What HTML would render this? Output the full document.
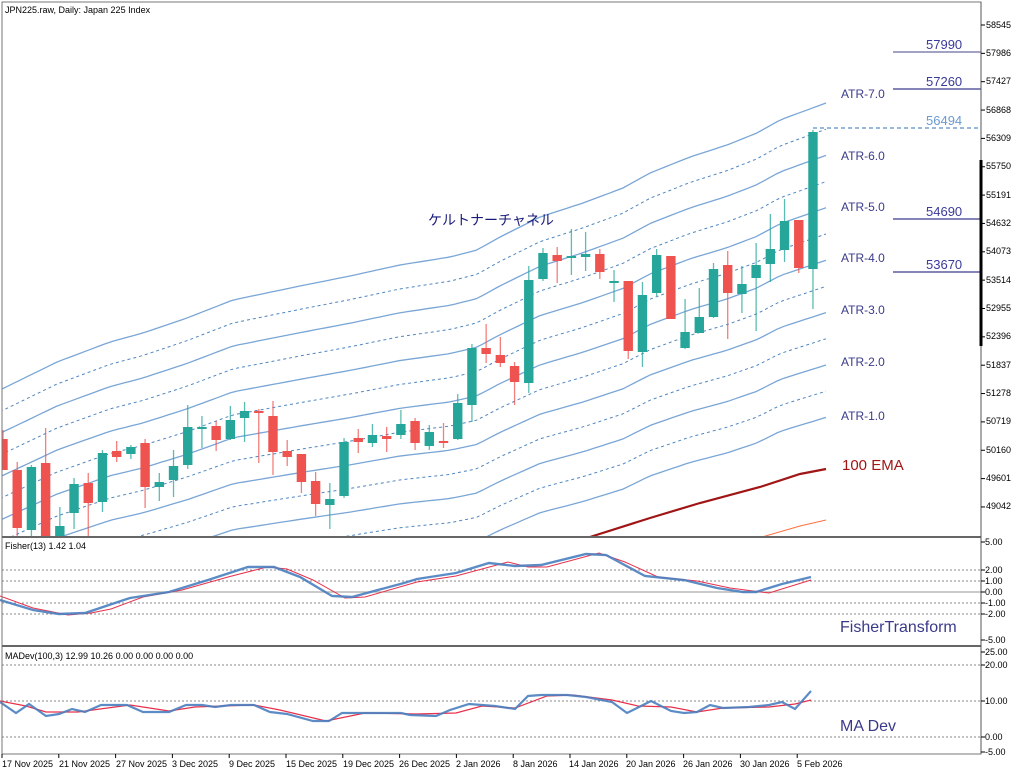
<!DOCTYPE html>
<html><head><meta charset="utf-8"><style>
html,body{margin:0;padding:0;background:#fff;}
svg{display:block;font-family:"Liberation Sans","Noto Sans CJK JP",sans-serif;}
.ax{font-size:9px;fill:#000;}
</style></head><body>
<svg id="s" width="1024" height="773" viewBox="0 0 1024 773" xmlns="http://www.w3.org/2000/svg">
<rect width="1024" height="773" fill="#fff"/>
<g id="bands"></g>
<polyline fill="none" stroke="#a01515" stroke-width="2.2" points="590,537 650,518 700,503 760,487 800,474 826,469"/>
<polyline fill="none" stroke="#ff7040" stroke-width="1" points="762,537 800,526 826,520"/>
<g id="candles"></g>
<!-- horizontal levels -->
<line x1="893" y1="52" x2="981" y2="52" stroke="#6a6aa0" stroke-width="1.3"/>
<line x1="893" y1="89" x2="981" y2="89" stroke="#3a3a8a" stroke-width="1.3"/>
<line x1="813" y1="128" x2="981" y2="128" stroke="#5a8ec8" stroke-width="1.2" stroke-dasharray="4,3"/>
<line x1="893" y1="219" x2="981" y2="219" stroke="#3a3a8a" stroke-width="1.3"/>
<line x1="893" y1="272" x2="981" y2="272" stroke="#3a3a8a" stroke-width="1.3"/>
<g font-size="13" fill="#3a3a9a">
<text x="926" y="49">57990</text>
<text x="926" y="86">57260</text>
<text x="926" y="125" fill="#6a9ad0">56494</text>
<text x="926" y="216">54690</text>
<text x="926" y="269">53670</text>
</g>
<g font-size="12" fill="#3a3a8a">
<text x="841" y="98">ATR-7.0</text>
<text x="841" y="160">ATR-6.0</text>
<text x="841" y="211">ATR-5.0</text>
<text x="841" y="262">ATR-4.0</text>
<text x="841" y="314">ATR-3.0</text>
<text x="841" y="366">ATR-2.0</text>
<text x="841" y="420">ATR-1.0</text>
</g>
<text x="842" y="470" font-size="15" fill="#a01515">100 EMA</text>
<text x="428" y="225" font-size="14" fill="#1a1a7a">ケルトナーチャネル</text>
<text x="5" y="13" class="ax">JPN225.raw, Daily:  Japan 225 Index</text>

<!-- Fisher panel -->
<g stroke="#888" stroke-width="1" stroke-dasharray="2,2">
<line x1="2" y1="570" x2="981" y2="570"/><line x1="2" y1="581" x2="981" y2="581"/>
<line x1="2" y1="603" x2="981" y2="603"/><line x1="2" y1="614" x2="981" y2="614"/>
</g>
<line x1="2" y1="592" x2="981" y2="592" stroke="#aaa" stroke-width="1.2"/>
<polyline fill="none" stroke="#e8304a" stroke-width="1" points="0,596 33,608 68,615 91,613 111,609 143,597 182,590 228,577 267,567 287,569 313,580 345,598 365,597 417,582 456,576 508,562 528,567 547,567 599,553 625,562 658,577 697,581 730,588 769,593 811,580"/>
<polyline fill="none" stroke="#4a80c0" stroke-width="2.4" stroke-opacity="0.9" points="0,600 33,610 59,614 85,613 130,598 169,592 208,580 248,567 274,567 300,577 332,596 352,597 404,583 417,579 456,573 489,563 515,566 541,565 586,554 606,555 645,576 684,580 717,588 743,592 756,592 782,584 811,577"/>
<text x="5" y="549" class="ax">Fisher(13) 1.42 1.04</text>
<text x="840" y="632" font-size="16" fill="#3a3a8a">FisherTransform</text>

<!-- MADev panel -->
<g stroke="#888" stroke-width="1" stroke-dasharray="2,2">
<line x1="2" y1="665" x2="981" y2="665"/><line x1="2" y1="701" x2="981" y2="701"/><line x1="2" y1="737" x2="981" y2="737"/>
</g>
<polyline fill="none" stroke="#e8304a" stroke-width="1.2" points="0,701 26,706 46,712 78,712 130,705 169,711 195,707 221,706 254,705 280,710 326,721 365,713 417,714 456,713 482,706 515,708 547,696 573,695 612,700 638,706 671,707 697,712 723,708 769,707 795,704 811,700"/>
<polyline fill="none" stroke="#4a80c0" stroke-width="2.2" stroke-opacity="0.9" points="0,702 16,713 29,704 46,716 59,714 72,709 85,712 101,705 127,705 143,712 169,712 186,705 202,705 215,707 231,705 254,705 270,712 287,714 313,721 329,721 342,713 371,713 391,713 401,713 410,715 436,716 450,710 469,704 495,706 515,709 528,696 541,695 567,695 586,697 612,702 627,713 651,701 671,711 684,713 697,712 710,705 723,708 749,707 769,705 782,702 795,709 811,691"/>
<text x="5" y="659" class="ax">MADev(100,3) 12.99 10.26 0.00 0.00 0.00 0.00</text>
<text x="840" y="731" font-size="16" fill="#3a3a8a">MA Dev</text>

<!-- frames -->
<rect x="2" y="2" width="979" height="752" fill="none" stroke="#777" stroke-width="1"/>
<line x1="2" y1="537" x2="981" y2="537" stroke="#666" stroke-width="2"/>
<line x1="2" y1="646" x2="981" y2="646" stroke="#666" stroke-width="2"/>
<line x1="981" y1="2" x2="981" y2="754" stroke="#555" stroke-width="1"/>
<line x1="981" y1="160" x2="981" y2="346" stroke="#000" stroke-width="3"/>
<g id="axis"></g>
<g class="ax">
<text x="985" y="545">5.00</text><text x="985" y="573">2.00</text><text x="985" y="584">1.00</text>
<text x="985" y="595">0.00</text><text x="985" y="606">-1.00</text><text x="985" y="617">-2.00</text><text x="985" y="643">-5.00</text>
<text x="985" y="655">25.00</text><text x="985" y="668">20.00</text><text x="985" y="704">10.00</text>
<text x="985" y="740">0.00</text><text x="985" y="755">-5.00</text>
</g>
<g class="ax">
<text x="2" y="767">17 Nov 2025</text><text x="59" y="767">21 Nov 2025</text><text x="116" y="767">27 Nov 2025</text>
<text x="172" y="767">3 Dec 2025</text><text x="229" y="767">9 Dec 2025</text><text x="286" y="767">15 Dec 2025</text>
<text x="343" y="767">19 Dec 2025</text><text x="399" y="767">26 Dec 2025</text><text x="456" y="767">2 Jan 2026</text>
<text x="513" y="767">8 Jan 2026</text><text x="569" y="767">14 Jan 2026</text><text x="626" y="767">20 Jan 2026</text>
<text x="683" y="767">26 Jan 2026</text><text x="740" y="767">30 Jan 2026</text><text x="797" y="767">5 Feb 2026</text>
</g>
<g class="ax" id="pl">
<text x="986" y="28">58545</text><text x="986" y="56">57986</text><text x="986" y="84">57427</text>
<text x="986" y="113">56868</text><text x="986" y="141">56309</text><text x="986" y="169">55750</text>
<text x="986" y="198">55191</text><text x="986" y="226">54632</text><text x="986" y="254">54073</text>
<text x="986" y="283">53514</text><text x="986" y="311">52955</text><text x="986" y="339">52396</text>
<text x="986" y="368">51837</text><text x="986" y="396">51278</text><text x="986" y="424">50719</text>
<text x="986" y="453">50160</text><text x="986" y="481">49601</text><text x="986" y="509">49042</text>
</g>
</svg>
<script>
(function(){
var NS="http://www.w3.org/2000/svg";
function el(p,t,a){var e=document.createElementNS(NS,t);for(var k in a)e.setAttribute(k,a[k]);p.appendChild(e);return e;}
var T=[[0,390],[57,362],[110,342],[143,333],[187,318],[233,300],[300,286],[350,276],[400,265],[450,257],[477,250],[500,237],[540,217],[583,203],[623,188],[650,173],[690,157],[727,145],[757,133],[780,120],[826,103]];
function tf(x){for(var i=0;i<T.length-1;i++){if(x<=T[i+1][0]){var a=T[i],b=T[i+1];return a[1]+(b[1]-a[1])*(x-a[0])/(b[0]-a[0]);}}return T[T.length-1][1];}
var bg=document.getElementById('bands');
var clip=el(document.getElementById('s'),'clipPath',{id:'cp'});el(clip,'rect',{x:2,y:2,width:979,height:535});
bg.setAttribute('clip-path','url(#cp)');
for(var k=0;k<=12;k++){var pts=[];for(var x=0;x<=826;x+=7){var s=21.7+4.5*x/826;pts.push(x+','+(tf(x)+k*s).toFixed(1));}
var a={fill:'none',stroke:k%2?'#4f86c0':'#7aa6d6','stroke-width':k%2?1:1.3,points:pts.join(' ')};if(k%2)a['stroke-dasharray']='3,3';el(bg,'polyline',a);}
var G='#26a69a',R='#ef5350';
var C=[[439,470,430,470,R],[470,528,462,540,R],[467,530,465,540,G],[463,540,428,540,R],[526,540,507,540,G],[484,513,478,529,G],[483,503,473,540,R],[453,502,450,512,G],[451,457,441,462,R],[447,454,445,459,G],[443,487,439,508,R],[482,487,473,501,G],[466,480,450,497,G],[427,465,405,469,G],[427,429,416,448,G],[426,440,421,451,R],[420,439,406,440,G],[411,418,402,442,G],[411,413,409,463,R],[416,452,401,475,R],[451,457,440,466,R],[454,482,454,493,R],[481,504,472,516,R],[499,505,483,529,G],[442,496,438,498,G],[438,442,429,453,R],[435,443,424,447,G],[436,439,427,452,R],[424,435,410,439,G],[421,443,418,450,R],[432,446,425,450,G],[441,442,423,448,R],[403,439,394,440,G],[348,405,344,422,G],[348,354,324,363,R],[355,363,337,367,R],[366,382,362,405,R],[280,383,266,393,G],[253,279,248,281,G],[255,261,247,283,R],[256,258,229,275,G],[254,257,232,271,G],[254,272,249,279,R],[281,283,270,302,G],[281,351,281,359,R],[295,352,282,367,G],[255,293,249,296,G],[256,319,256,319,R],[332,348,299,349,G],[317,333,288,333,G],[269,317,263,318,G],[265,293,251,339,R],[284,294,266,313,G],[265,278,243,331,G],[249,264,214,282,G],[221,250,199,262,G],[220,268,220,273,R],[132,269,130,309,G]];
var cg=document.getElementById('candles');cg.setAttribute('clip-path','url(#cp)');
C.forEach(function(c,i){var x=3+i*14.21;var col=c[4];
el(cg,'line',{x1:x,y1:c[2],x2:x,y2:c[3],stroke:col,'stroke-width':1.3,'stroke-opacity':0.75});
var h=Math.max(c[1]-c[0],2);el(cg,'rect',{x:x-4.7,y:c[0],width:9.4,height:h,fill:col});});
var ag=document.getElementById('axis');
for(var j=0;j<18;j++){var y=25+j*28.35;el(ag,'line',{x1:981,y1:y,x2:985,y2:y,stroke:'#000'});}
[542,570,581,592,603,614,640,652,665,701,737,752].forEach(function(y){el(ag,'line',{x1:981,y1:y,x2:985,y2:y,stroke:'#000'});});
for(var d=0;d<15;d++){var x=2+d*56.8;el(ag,'line',{x1:x,y1:754,x2:x,y2:758,stroke:'#000'});}
})();
</script>
</body></html>
